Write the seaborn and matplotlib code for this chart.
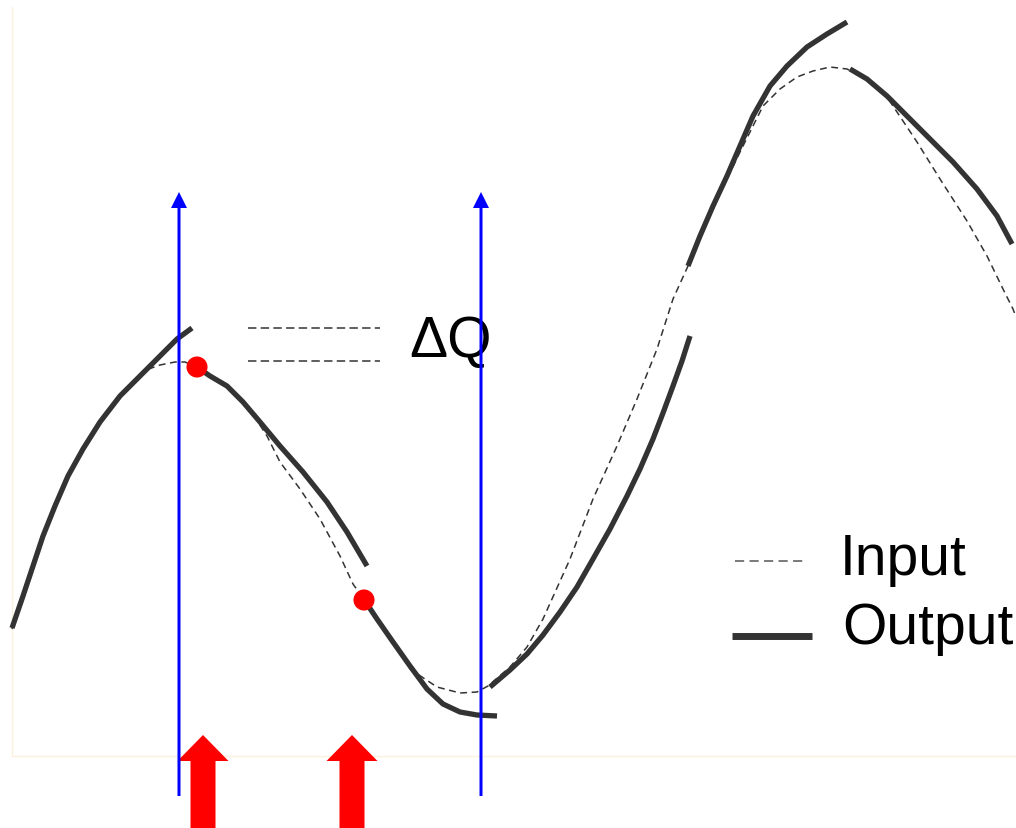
import numpy as np
import pandas as pd
import matplotlib
matplotlib.use("Agg")
import matplotlib.pyplot as plt
import seaborn as sns

# canvas is laid out in pixel units (x to the right, y downwards)
W, H = 1016, 829

# input signal (dashed)
input_x = [12, 23, 33, 43, 55, 68, 83, 100, 120, 143, 160, 175, 185, 197, 210, 227,
           243, 256, 267, 280, 300, 320, 340, 353, 365, 377, 393, 410, 437, 460,
           477, 488, 510, 527, 543, 570, 593, 617, 637, 657, 673, 688, 700, 713,
           727, 740, 750, 763, 780, 797, 813, 830, 847, 867, 887, 897, 917, 940,
           967, 987, 1003, 1013, 1016]
input_y = [630, 597, 567, 537, 507, 477, 450, 423, 397, 372, 366, 363, 363, 368, 377, 387,
           403, 420, 437, 463, 490, 520, 557, 585, 602, 620, 643, 670, 688, 694,
           693, 687, 668, 648, 620, 560, 500, 447, 400, 350, 300, 267, 240, 210,
           180, 153, 133, 107, 90, 78, 72, 68, 70, 80, 98, 113, 143, 180,
           222, 257, 290, 310, 318]

# output signal (solid), drawn as separate pieces
out_seg1_x = [12, 23, 33, 43, 55, 68, 83, 100, 120, 140, 160, 177, 192]
out_seg1_y = [629, 597, 567, 537, 507, 477, 450, 423, 397, 377, 357, 340, 329]
out_seg2_x = [197, 210, 227, 243, 260, 280, 303, 327, 347, 367]
out_seg2_y = [368, 377, 387, 403, 423, 447, 473, 503, 533, 567]
out_seg3_x = [365, 377, 393, 410, 427, 443, 460, 477, 497]
out_seg3_y = [602, 620, 643, 667, 690, 705, 713, 716, 717]
out_seg4_x = [490, 510, 527, 543, 560, 577, 593, 610, 627, 640, 653, 663, 673, 682, 690]
out_seg4_y = [688, 671, 655, 636, 613, 588, 560, 530, 497, 470, 440, 414, 387, 362, 337]
out_seg5_x = [688, 700, 713, 727, 740, 753, 770, 787, 807, 827, 847]
out_seg5_y = [267, 237, 207, 177, 147, 117, 87, 67, 48, 35, 23]
out_seg6_x = [850, 867, 887, 907, 930, 953, 977, 997, 1012]
out_seg6_y = [70, 80, 97, 117, 140, 163, 190, 217, 245]

# marked sample points
dot_x = [197, 364]
dot_y = [368, 601]

# sampling instants (blue) and trigger instants (red)
blue_x = [179, 481]
red_x = [203, 352]

dq_y = [329, 362]

out_segments = [(out_seg1_x, out_seg1_y), (out_seg2_x, out_seg2_y), (out_seg3_x, out_seg3_y),
                (out_seg4_x, out_seg4_y), (out_seg5_x, out_seg5_y), (out_seg6_x, out_seg6_y)]

sns.set_theme(style="white")
plt.rcParams['font.family'] = ['Liberation Sans', 'DejaVu Sans']

fig = plt.figure(figsize=(W / 100, H / 100), dpi=100)
ax = fig.add_axes([0, 0, 1, 1])

# faint frame
ax.plot([12, 12], [8, 757], color="#fcf1dc", lw=1, zorder=0)
ax.plot([12, W], [757, 757], color="#fcf1dc", lw=1, zorder=0)

sns.lineplot(x=input_x, y=input_y, sort=False, estimator=None, ax=ax,
             color="#333333", lw=1.1, linestyle=(0, (4.5, 3)), zorder=2)

for xs, ys in out_segments:
    sns.lineplot(x=xs, y=ys, sort=False, estimator=None, ax=ax,
                 color="#333333", lw=3.8, solid_capstyle="butt",
                 solid_joinstyle="round", zorder=3)

sns.scatterplot(x=dot_x, y=dot_y, s=230, color="red", edgecolor="none", ax=ax, zorder=4)

# delta-Q guide lines and label
for yv in dq_y:
    ax.plot([248, 380], [yv, yv], color="#333333", lw=1.1, linestyle=(0, (5.5, 2.8)), zorder=2)
ax.text(409, 357, "\u0394Q", fontsize=41, color="black", va="baseline", ha="left", zorder=3)

# legend
ax.plot([735, 803], [562, 562], color="#555555", lw=1.1, linestyle=(0, (6, 3.5)))
ax.plot([732, 812], [637, 637], color="#333333", lw=5, solid_capstyle="butt")
ax.text(840, 575, "Input", fontsize=41, color="black", va="baseline", ha="left")
ax.text(842, 644, "Output", fontsize=41, color="black", va="baseline", ha="left")

# red trigger arrows
for xr in red_x:
    ax.arrow(xr, 850, 0, 736 - 850, width=25, head_width=51, head_length=26,
             length_includes_head=True, color="red", lw=0, zorder=5)

# blue sampling arrows
for xb in blue_x:
    ax.arrow(xb, 797, 0, 193 - 797, width=3, head_width=16, head_length=16,
             length_includes_head=True, color="blue", lw=0, zorder=6)

ax.set_xlim(0, W)
ax.set_ylim(H, 0)
ax.axis("off")

fig.savefig("out.png", dpi=100, facecolor="white")
